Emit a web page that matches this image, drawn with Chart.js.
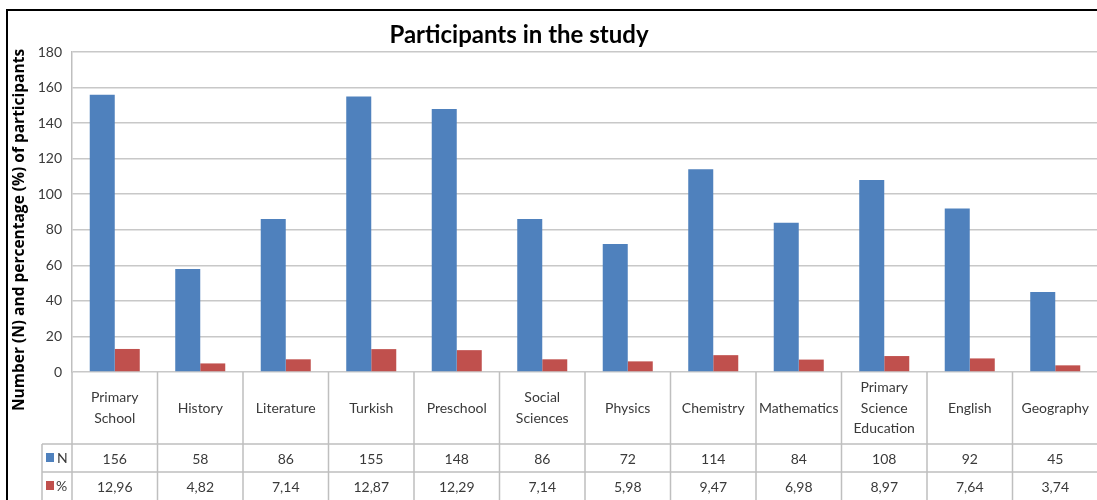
<!DOCTYPE html>
<html>
<head>
<meta charset="utf-8">
<script src="https://cdn.jsdelivr.net/npm/chart.js@4.4.1/dist/chart.umd.min.js"></script>
<style>
  html, body { margin: 0; padding: 0; background: #fff; overflow: hidden; }
  #wrap { width: 1100px; height: 500px; }
</style>
</head>
<body>
<div id="wrap"><canvas id="chart" width="1100" height="500"></canvas></div>
<script>
// data
const categories = [
  ['Primary', 'School'], ['History'], ['Literature'], ['Turkish'], ['Preschool'],
  ['Social', 'Sciences'], ['Physics'], ['Chemistry'], ['Mathematics'],
  ['Primary', 'Science', 'Education'], ['English'], ['Geography']
];
const countN = [156, 58, 86, 155, 148, 86, 72, 114, 84, 108, 92, 45];
const percent = [12.96, 4.82, 7.14, 12.87, 12.29, 7.14, 5.98, 9.47, 6.98, 8.97, 7.64, 3.74];
const yTicks = [0, 20, 40, 60, 80, 100, 120, 140, 160, 180];

const blue = '#4F81BD';
const red = '#C0504D';
const lineGray = '#BFBFBF';
const textGray = '#3A3A3A';

const tablePlugin = {
  id: 'tablePlugin',
  afterDraw(chart) {
    const ctx = chart.ctx;
    const x = chart.scales.x;
    const area = chart.chartArea;
    const n = categories.length;
    const half = (x.getPixelForValue(1) - x.getPixelForValue(0)) / 2;
    const rowLabelBottom = 444, rowNBottom = 472, tableBottom = 500;

    ctx.save();
    // outer frame
    ctx.strokeStyle = '#000';
    ctx.lineWidth = 2;
    ctx.beginPath();
    ctx.moveTo(7, 500);
    ctx.lineTo(7, 10);
    ctx.lineTo(1100, 10);
    ctx.stroke();

    // title
    ctx.fillStyle = '#000';
    ctx.font = 'bold 24px Lato, Carlito, sans-serif';
    ctx.textAlign = 'center';
    ctx.textBaseline = 'middle';
    ctx.fillText('Participants in the study', 519, 35);

    // y axis title
    ctx.save();
    ctx.translate(20, 230);
    ctx.rotate(-Math.PI / 2);
    ctx.font = 'bold 15.5px "Open Sans", sans-serif';
    ctx.fillStyle = '#000';
    ctx.fillText('Number (N) and percentage (%) of participants', 0, 0);
    ctx.restore();

    // table lines
    ctx.strokeStyle = lineGray;
    ctx.lineWidth = 1.5;
    ctx.beginPath();
    ctx.moveTo(42, rowLabelBottom); ctx.lineTo(area.right, rowLabelBottom);
    ctx.moveTo(42, rowNBottom); ctx.lineTo(area.right, rowNBottom);
    ctx.moveTo(42, rowLabelBottom); ctx.lineTo(42, tableBottom);
    ctx.moveTo(area.left, area.bottom); ctx.lineTo(area.left, tableBottom);
    for (let i = 0; i < n; i++) {
      const bx = x.getPixelForValue(i) + half;
      ctx.moveTo(bx, area.bottom); ctx.lineTo(bx, tableBottom);
    }
    ctx.stroke();

    // table text
    ctx.fillStyle = textGray;
    ctx.font = '14px Lato, Carlito, sans-serif';
    ctx.textAlign = 'center';
    ctx.textBaseline = 'middle';
    const labelMid = (area.bottom + rowLabelBottom) / 2;
    for (let i = 0; i < n; i++) {
      const cx = x.getPixelForValue(i);
      const lines = categories[i];
      const lh = 20.5;
      const y0 = labelMid - (lines.length - 1) * lh / 2;
      lines.forEach((t, k) => ctx.fillText(t, cx, y0 + k * lh));
      ctx.fillText(String(countN[i]), cx, (rowLabelBottom + rowNBottom) / 2 + 1);
      ctx.fillText(percent[i].toFixed(2).replace('.', ','), cx, (rowNBottom + tableBottom) / 2 + 1);
    }

    // legend keys
    ctx.textAlign = 'left';
    ctx.fillStyle = blue;
    ctx.fillRect(46, 453, 8, 9);
    ctx.fillStyle = red;
    ctx.fillRect(46, 481, 8, 9);
    ctx.fillStyle = textGray;
    ctx.fillText('N', 57, 458);
    ctx.fillText('%', 56, 486);
    ctx.restore();
  }
};

new Chart(document.getElementById('chart'), {
  type: 'bar',
  data: {
    labels: categories,
    datasets: [
      { label: 'N', data: countN, backgroundColor: blue },
      { label: '%', data: percent, backgroundColor: red }
    ]
  },
  options: {
    responsive: false,
    animation: false,
    layout: { padding: { top: 52, bottom: 128, left: 0, right: 2 } },
    datasets: { bar: { categoryPercentage: 0.585, barPercentage: 1 } },
    scales: {
      x: { display: false },
      y: {
        min: 0,
        max: 180,
        afterFit(scale) { scale.width = 72; },
        afterBuildTicks(scale) { scale.ticks = yTicks.map(v => ({ value: v })); },
        ticks: {
          color: textGray,
          font: { family: 'Lato, Carlito, sans-serif', size: 14 },
          padding: 10
        },
        grid: { color: '#C8C8C8', lineWidth: 1.5, drawTicks: false },
        border: { display: true, color: lineGray, width: 1.5 }
      }
    },
    plugins: {
      legend: { display: false },
      tooltip: { enabled: false },
      title: { display: false }
    }
  },
  plugins: [tablePlugin]
});
</script>
</body>
</html>
